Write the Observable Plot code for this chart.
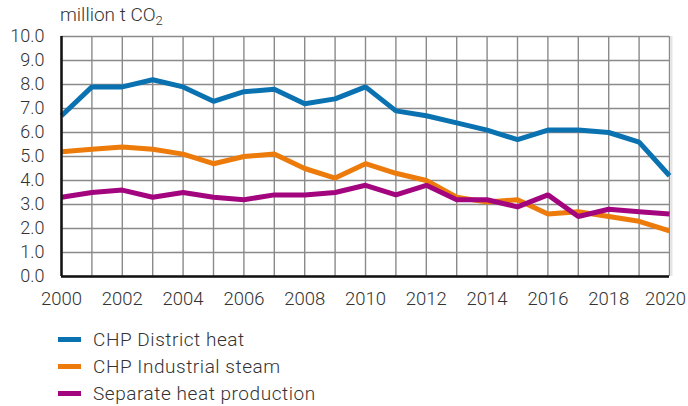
<!DOCTYPE html>
<html>
<head>
<meta charset="utf-8">
<script src="https://cdn.jsdelivr.net/npm/d3@7"></script>
<script src="https://cdn.jsdelivr.net/npm/@observablehq/plot@0.6"></script>
<style>
  body { margin: 0; background: #fff; font-family: Roboto, "Liberation Sans", sans-serif; font-weight: 300; color: #333; }
  #wrap { width: 688px; }
  .unit { height: 26px; padding-left: 60px; font-size: 19px; line-height: 30px; }
  .unit sub { font-size: 13px; vertical-align: -4px; line-height: 0; }
  .legend { margin-top: 16px; padding-left: 58px; font-size: 19px; letter-spacing: 0.55px; }
  .legend div { display: flex; align-items: center; height: 27px; }
  .legend span.sw { display: inline-block; width: 23px; height: 5px; margin-right: 12px; }
</style>
</head>
<body>
<div id="wrap">
  <div class="unit">million t CO<sub>2</sub></div>
  <div id="chart"></div>
  <div class="legend" id="legend"></div>
</div>
<script>
// Annual CO2 emissions from heat supply, million t
const years = d3.range(2000, 2021);
const seriesNames = ["CHP District heat", "CHP Industrial steam", "Separate heat production"];
const seriesColors = ["#0a72b0", "#ec7b0b", "#a3057f"];
const districtHeat = [6.7, 7.9, 7.9, 8.2, 7.9, 7.3, 7.7, 7.8, 7.2, 7.4, 7.9, 6.9, 6.7, 6.4, 6.1, 5.7, 6.1, 6.1, 6.0, 5.6, 4.2];
const industrialSteam = [5.2, 5.3, 5.4, 5.3, 5.1, 4.7, 5.0, 5.1, 4.5, 4.1, 4.7, 4.3, 4.0, 3.3, 3.1, 3.2, 2.6, 2.7, 2.5, 2.3, 1.9];
const separateHeat = [3.3, 3.5, 3.6, 3.3, 3.5, 3.3, 3.2, 3.4, 3.4, 3.5, 3.8, 3.4, 3.8, 3.2, 3.2, 2.9, 3.4, 2.5, 2.8, 2.7, 2.6];
const yTicks = [0, 1, 2, 3, 4, 5, 6, 7, 8, 9, 10];
const xTicks = d3.range(2000, 2021, 2);

const allSeries = [districtHeat, industrialSteam, separateHeat];
const rows = allSeries.flatMap((vals, i) =>
  vals.map((v, j) => ({ series: seriesNames[i], year: years[j], value: v }))
);

// the last year label sits against the right edge, so it is nudged inward
const lastTick = xTicks[xTicks.length - 1];
const innerTicks = xTicks.slice(0, -1);
const xAxisStyle = { tickSize: 0, tickPadding: 15, tickFormat: "d", label: null, fill: "#333", fontSize: 18.5 };

const chart = Plot.plot({
  width: 688,
  height: 284,
  marginTop: 10,
  marginBottom: 34,
  marginLeft: 61,
  marginRight: 19,
  style: { fontFamily: "Roboto, 'Liberation Sans', sans-serif", fontSize: "18px", fontWeight: 300, color: "#333", background: "#fff", overflow: "visible" },
  x: { domain: [2000, 2020] },
  y: { domain: [0, 10] },
  color: { domain: seriesNames, range: seriesColors },
  marks: [
    Plot.gridX(years, { stroke: "#8a8a8a", strokeOpacity: 1, strokeWidth: 1.4 }),
    Plot.gridY(yTicks, { stroke: "#8a8a8a", strokeOpacity: 1, strokeWidth: 1.4 }),
    Plot.ruleX([2020], { stroke: "#e4e4e4", strokeWidth: 2, dx: 2 }),
    Plot.axisY(yTicks, { tickSize: 0, tickPadding: 17, tickFormat: d3.format(".1f"), label: null, fill: "#333" }),
    Plot.axisX(innerTicks, xAxisStyle),
    Plot.axisX([lastTick], { ...xAxisStyle, dx: -4 }),
    Plot.line(rows, { x: "year", y: "value", z: "series", stroke: "series", strokeWidth: 5, strokeLinejoin: "miter", strokeLinecap: "butt" }),
    Plot.ruleX([2000], { stroke: "#111", strokeWidth: 2.5 }),
    Plot.ruleY([0], { stroke: "#111", strokeWidth: 2.5 })
  ]
});
document.getElementById("chart").appendChild(chart);

const legend = document.getElementById("legend");
seriesNames.forEach((name, i) => {
  const row = document.createElement("div");
  const sw = document.createElement("span");
  sw.className = "sw";
  sw.style.background = seriesColors[i];
  row.appendChild(sw);
  row.appendChild(document.createTextNode(name));
  legend.appendChild(row);
});
</script>
</body>
</html>
